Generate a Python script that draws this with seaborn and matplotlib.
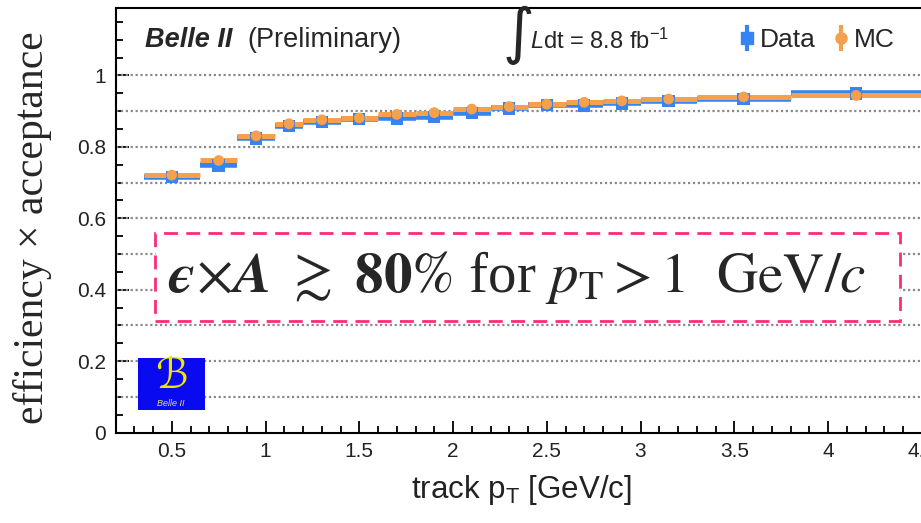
import numpy as np
import pandas as pd
import matplotlib
matplotlib.use("Agg")
import matplotlib.pyplot as plt
from matplotlib.ticker import MultipleLocator
from matplotlib.patches import Rectangle
import seaborn as sns

# pT bins [GeV/c]
bin_lo = [0.35, 0.65, 0.85, 1.05, 1.2, 1.4, 1.6, 1.8, 2.0, 2.2, 2.4, 2.6, 2.8, 3.0, 3.3, 3.8]
bin_hi = [0.65, 0.85, 1.05, 1.2, 1.4, 1.6, 1.8, 2.0, 2.2, 2.4, 2.6, 2.8, 3.0, 3.3, 3.8, 4.5]
pt_center = [0.5, 0.75, 0.95, 1.125, 1.3, 1.5, 1.7, 1.9, 2.1, 2.3, 2.5, 2.7, 2.9, 3.15, 3.55, 4.15]

# efficiency x acceptance
eff_data = [0.716, 0.748, 0.824, 0.858, 0.869, 0.878, 0.880, 0.883, 0.895, 0.908,
            0.917, 0.916, 0.922, 0.928, 0.934, 0.950]
eff_mc = [0.721, 0.762, 0.831, 0.865, 0.876, 0.881, 0.891, 0.896, 0.906, 0.913,
          0.920, 0.925, 0.929, 0.934, 0.940, 0.944]
err_data = [0.008] * 16
err_mc = [0.004] * 16

samples = ["Data", "MC"]
colors = {"Data": "#3584f2", "MC": "#f4a04c"}

sns.set_style("ticks")
plt.rcParams["font.family"] = ["Liberation Sans", "DejaVu Sans"]
plt.rcParams["mathtext.fontset"] = "custom"
plt.rcParams["mathtext.rm"] = "Liberation Sans"
plt.rcParams["mathtext.it"] = "Liberation Sans:italic"
plt.rcParams["mathtext.bf"] = "Liberation Sans:bold"

W, H = 921, 523
fig = plt.figure(figsize=(W / 100, H / 100), dpi=100)

# axes frame in pixels (extends past the right edge of the canvas)
x0_px, x1_px = 115.5, 1015.5
ybot_px, ytop_px = 432.6, 8.0
ax = fig.add_axes([x0_px / W, 1 - ybot_px / H, (x1_px - x0_px) / W, (ybot_px - ytop_px) / H])
ax.set_xlim(0.2, 5.0)
ax.set_ylim(0.0, 1.189)

# dotted horizontal grid
for g in np.arange(0.1, 1.05, 0.1):
    ax.axhline(g, color="#8a8a8a", lw=1.6, ls=(0, (1.0, 1.2)), zorder=1)

df = pd.DataFrame({
    "pt": pt_center * 2,
    "eff": eff_data + eff_mc,
    "lo": bin_lo * 2,
    "hi": bin_hi * 2,
    "err": err_data + err_mc,
    "sample": ["Data"] * 16 + ["MC"] * 16,
})

lw_bins = {"Data": 4.0, "MC": 3.6}
for i, s in enumerate(samples):
    d = df[df["sample"] == s]
    ax.hlines(d["eff"], d["lo"], d["hi"], color=colors[s], lw=lw_bins[s], zorder=3 + 2 * i)
    ax.errorbar(d["pt"], d["eff"], yerr=d["err"], fmt="none", ecolor=colors[s],
                elinewidth=lw_bins[s], capsize=0, zorder=3 + 2 * i)

sns.scatterplot(data=df, x="pt", y="eff", hue="sample", style="sample",
                markers={"Data": "s", "MC": "o"}, palette=colors,
                size="sample", sizes={"Data": 80, "MC": 60},
                linewidth=0, legend=False, ax=ax, zorder=8)

ax.set_xlabel("")
ax.set_ylabel("")

# ticks
ax.xaxis.set_major_locator(MultipleLocator(0.5))
ax.xaxis.set_minor_locator(MultipleLocator(0.1))
ax.yaxis.set_major_locator(MultipleLocator(0.2))
ax.yaxis.set_minor_locator(MultipleLocator(0.05))
ax.tick_params(which="both", direction="in", top=False, right=False, colors="black",
               labelsize=15, width=1.3, labelcolor="#222222")
ax.tick_params(which="major", length=9, pad=7)
ax.tick_params(which="minor", length=5)
ax.set_xticks(np.arange(0.5, 4.6, 0.5))
ax.set_xticklabels(["0.5", "1", "1.5", "2", "2.5", "3", "3.5", "4", "4.5"])
ax.set_yticks(np.arange(0, 1.01, 0.2))
ax.set_yticklabels(["0", "0.2", "0.4", "0.6", "0.8", "1"])
for sp in ax.spines.values():
    sp.set_linewidth(1.5)
    sp.set_color("black")

# axis titles
fig.text(33 / W, 1 - 228 / H, "efficiency \u00d7 acceptance", rotation=90,
         ha="center", va="center", fontsize=30, family=["Liberation Serif", "DejaVu Serif"])
fig.text(521 / W, 1 - 490 / H, r"track p$_{\mathregular{T}}$ [GeV/c]",
         ha="center", va="center", fontsize=22.5, color="#222222", family=["Liberation Sans"])

# header texts
fig.text(145 / W, 1 - 40 / H, "Belle II", fontsize=19.5, fontweight="bold", style="italic",
         ha="left", va="center", family=["Liberation Sans"])
fig.text(247 / W, 1 - 40 / H, "(Preliminary)", fontsize=19.5,
         ha="left", va="center", family=["Liberation Sans"])
fig.text(518 / W, 1 - 35 / H, "\u222b", fontsize=44, ha="center", va="center",
         family=["DejaVu Sans"])
fig.text(530 / W, 1 - 41 / H, r"$\mathit{L}$dt = 8.8 fb$^{\mathregular{-1}}$", fontsize=17,
         ha="left", va="center", family=["Liberation Sans"])

# legend
handles = []
for s, m in zip(samples, ["s", "o"]):
    h = ax.errorbar([], [], yerr=[], fmt=m, color=colors[s], ecolor=colors[s],
                    elinewidth=3, markersize=8, capsize=0)
    handles.append(h)
leg = fig.legend(handles, samples, loc="center left", bbox_to_anchor=(736 / W, 1 - 40 / H),
                 ncol=2, frameon=False, fontsize=19, handlelength=0.8, handletextpad=0.1,
                 columnspacing=0.55, borderaxespad=0, borderpad=0)

# highlighted statement box
box = Rectangle((155 / W, 1 - 321 / H), 745 / W, 88 / H, transform=fig.transFigure,
                facecolor="white", edgecolor="#ff2a78", lw=2.0, ls=(0, (5, 3)), zorder=20)
fig.patches.append(box)
fig.text(517 / W, 1 - 277 / H,
         "$\\mathbfit{\u03f5}\\!\\times\\!\\mathbfit{A}\\ \\gtrsim\\ \\mathbf{80}\\%$ for "
         "$p_{\\mathrm{T}} > 1\\ \\ \\mathrm{GeV}/c$",
         fontsize=41, ha="center", va="center", family=["Liberation Serif", "DejaVu Serif"],
         math_fontfamily="stix", zorder=21)

# experiment logo
logo = Rectangle((138 / W, 1 - 410 / H), 67 / W, 52 / H, transform=fig.transFigure,
                 facecolor="#0a0af0", edgecolor="none", zorder=20)
fig.patches.append(logo)
fig.text(171 / W, 1 - 376 / H, "\u212c", fontsize=30, color="#f2e600", ha="center",
         va="center", style="italic", family=["DejaVu Serif", "DejaVu Sans"], zorder=21)
fig.text(171 / W, 1 - 403 / H, "Belle II", fontsize=6.5, color="#e8e070", ha="center",
         va="center", style="italic", family=["Liberation Sans"], zorder=21)

fig.savefig("out.png", dpi=100)
